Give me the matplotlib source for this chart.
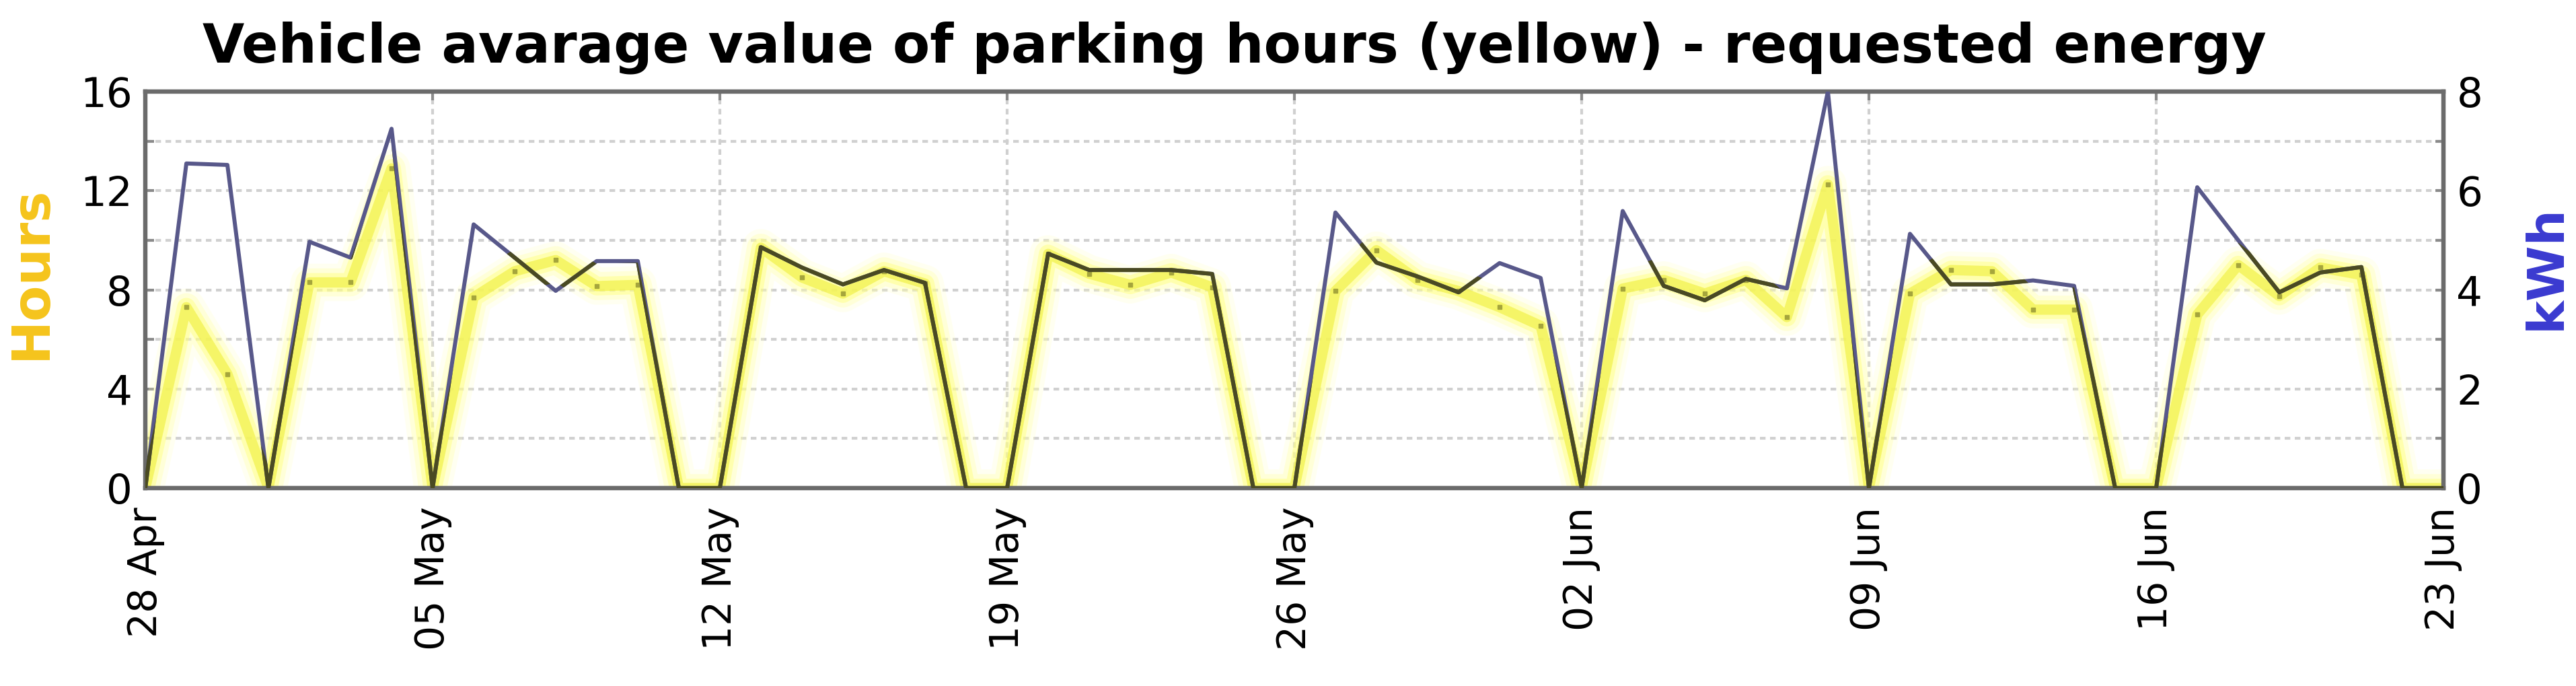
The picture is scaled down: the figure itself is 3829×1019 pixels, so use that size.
import matplotlib
matplotlib.use("Agg")
import matplotlib.pyplot as plt
import matplotlib.dates as mdates
import numpy as np
import pandas as pd

# daily values, 28 Apr .. 23 Jun
days = pd.date_range("2015-04-28", "2015-06-23", freq="D")
hours = [0, 7.3, 4.6, 0, 8.3, 8.3, 12.9, 0, 7.7, 8.75, 9.2, 8.15, 8.2, 0, 0,
         9.7, 8.5, 7.85, 8.75, 8.25, 0, 0, 9.45, 8.65, 8.2, 8.7, 8.1, 0, 0,
         7.95, 9.6, 8.4, 7.95, 7.3, 6.55, 0, 8.05, 8.4, 7.85, 8.4, 6.9, 12.25, 0,
         7.85, 8.8, 8.75, 7.2, 7.2, 0, 0, 7.0, 9.0, 7.75, 8.9, 8.6, 0, 0]
kwh = [0, 6.55, 6.52, 0, 4.97, 4.65, 7.25, 0, 5.32, 4.65, 3.98, 4.58, 4.58, 0, 0,
       4.86, 4.45, 4.11, 4.40, 4.14, 0, 0, 4.73, 4.40, 4.40, 4.40, 4.32, 0, 0,
       5.56, 4.55, 4.27, 3.95, 4.54, 4.24, 0, 5.59, 4.08, 3.79, 4.22, 4.03, 8.0, 0,
       5.13, 4.11, 4.11, 4.19, 4.08, 0, 0, 6.07, 5.0, 3.95, 4.35, 4.46, 0, 0]
tick_days = pd.date_range("2015-04-28", "2015-06-23", freq="7D")

plt.rcParams["font.family"] = ["DejaVu Sans"]

fig = plt.figure(figsize=(38.3, 10.19), dpi=100)
ax = fig.add_axes([0.0564, 0.2885, 0.8919, 0.578])
ax2 = ax.twinx()

# yellow glow for the hours series
for lw, c, a in [(40, "#ffffc8", 0.25), (30, "#ffffa0", 0.3), (20, "#ffff70", 0.4),
                 (11, "#f2f24a", 0.7)]:
    ax.plot(days, hours, color=c, lw=lw, alpha=a, solid_joinstyle="round",
            solid_capstyle="round", zorder=2)
ax.plot(days, hours, ls="none", marker="s", ms=5, color="#a5a53c", zorder=3)

# energy line, darker where it runs over the yellow
h = np.array(hours)
band = ax.fill_between(days, h - 0.9, h + 0.9, color="none", lw=0)
ax2.plot(days, kwh, color="#58588a", lw=4.3, zorder=3)
olive, = ax2.plot(days, kwh, color="#4a4a22", lw=4.3, zorder=4)
olive.set_clip_path(band.get_paths()[0], ax.transData)

ax.set_xlim(days[0], days[-1])
ax.set_ylim(0, 16)
ax2.set_ylim(0, 8)
ax.set_yticks([0, 4, 8, 12, 16])
ax.set_yticks([2, 6, 10, 14], minor=True)
ax2.set_yticks([0, 2, 4, 6, 8])
ax2.set_yticks([1, 3, 5, 7], minor=True)
ax.set_xticks(tick_days)
ax.xaxis.set_major_formatter(mdates.DateFormatter("%d %b"))

gs = dict(color="#d0d0d0", linestyle=(0, (2.0, 1.6)), linewidth=3)
ax.grid(True, axis="y", which="both", **gs)
ax.grid(True, axis="x", which="major", **gs)

ax.tick_params(axis="y", which="both", direction="in", length=9, width=3,
               color="#8a8a8a", labelsize=44, pad=14, right=False)
ax2.tick_params(axis="y", which="both", direction="in", length=9, width=3,
                color="#8a8a8a", labelsize=44, pad=14)
ax.tick_params(axis="x", direction="in", length=9, width=3, color="#8a8a8a",
               labelsize=42, labelrotation=90, pad=20, top=True)

for a in (ax, ax2):
    for s in a.spines.values():
        s.set_color("#6b6b6b")
        s.set_linewidth(4.5)

fig.text(46 / 3830, 1 - 405 / 1019, "Hours", rotation=90, ha="center", va="center",
         fontsize=56, fontweight="bold", color="#f5c41c")
fig.text(3785 / 3830, 1 - 397 / 1019, "kWh", rotation=90, ha="center", va="center",
         fontsize=54, fontweight="bold", color="#3a3ad0")
fig.text(0.479, 1 - 92 / 1019,
         "Vehicle avarage value of parking hours (yellow) - requested energy",
         ha="center", va="baseline", fontsize=58, fontweight="bold")

fig.savefig("out.png", dpi=100)
